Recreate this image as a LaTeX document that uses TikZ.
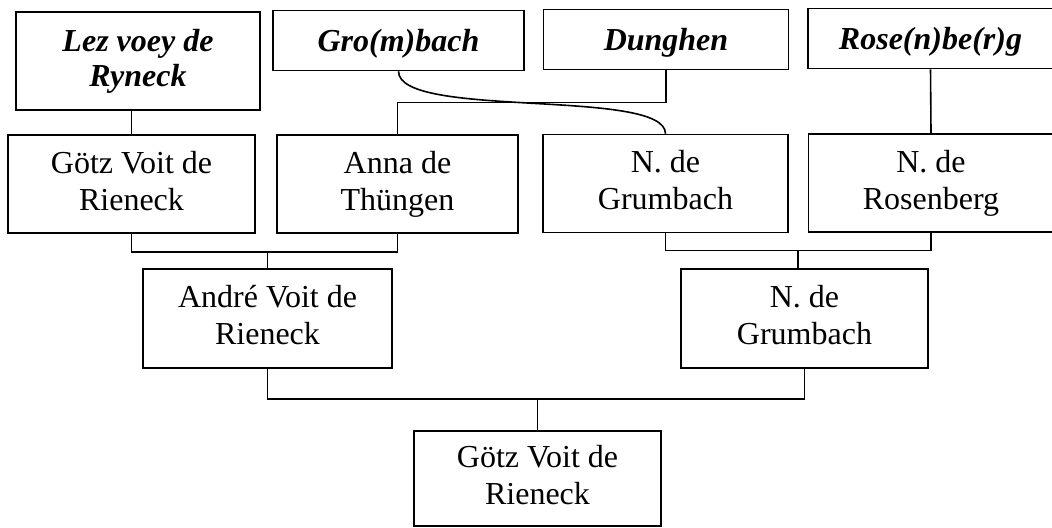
\documentclass[tikz,border=0pt]{standalone}
\usepackage{fontspec}
\setmainfont{Liberation Serif}
\usetikzlibrary{calc}
\tikzset{
  ahn/.style={draw, line width=0.8pt, inner sep=0pt, align=center,
    minimum width=122.5pt, minimum height=49pt,
    execute at begin node={\rule{0pt}{14.2pt}},
    execute at end node={\rule[-3.6pt]{0pt}{3.6pt}},
    font=\fontsize{16}{18.5}\selectfont},
  stamm/.style={ahn, minimum height=30pt,
    font=\fontsize{16}{17.5}\selectfont\bfseries\itshape},
  linie/.style={line width=0.8pt}
}
\begin{document}
\begin{tikzpicture}[x=0.5pt,y=-0.5pt]
		\useasboundingbox ( 0, 0 ) rectangle ( 1052, 527 );

		% Stammhäuser
		\node [stamm, minimum width=122pt, minimum height=49pt] (lez) at ( 138, 61 ) {Lez voey de\\Ryneck};
		\node [stamm, minimum width=125.5pt] (grom) at ( 398.5, 40.5 ) {Gro(m)bach};
		\node [stamm] (dung) at ( 666, 39.5 ) {Dunghen};
		\node [stamm] (rose) at ( 930.5, 38.5 ) {Rose(n)be(r)g};

		% Großeltern
		\node [ahn, minimum width=123.5pt] (goetz) at ( 131.5, 184 ) {Götz Voit de\\Rieneck};
		\node [ahn, minimum width=120.5pt] (anna) at ( 397.5, 184 ) {Anna de\\Thüngen};
		\node [ahn] (grum) at ( 665.5, 183.5 ) {N. de\\Grumbach};
		\node [ahn] (rosen) at ( 931, 183 ) {N. de\\Rosenberg};

		% Eltern
		\node [ahn, minimum width=124.5pt, minimum height=49.5pt] (andre) at ( 267.5, 318.5 ) {André Voit de\\Rieneck};
		\node [ahn, minimum width=123.5pt, minimum height=49.5pt] (grumz) at ( 804.5, 318.5 ) {N. de\\Grumbach};

		% Proband
		\node [ahn, minimum width=123.5pt, minimum height=47.5pt] (proband) at ( 537.5, 478.5 ) {Götz Voit de\\Rieneck};

		% Linien oben
		\draw [linie] (goetz.north) -- (goetz.north |- lez.south);
		\draw [linie] (dung.south) -- ++( 0, 32 ) -| (anna.north);
		\draw [linie] (grom.south) .. controls +( 0, 48 ) and +( 0, -46 ) .. (grum.north);
		\draw [linie] (rose.south) -- (rosen.north);

		% Linien Mitte
		\draw [linie] (goetz.south) -- ++( 0, 18 ) coordinate (jl) -| (anna.south);
		\draw [linie] (andre.north) -- (andre.north |- jl);
		\draw [linie] (grum.south) -- ++( 0, 17 ) -| (rosen.south);
		\coordinate (jr) at ($(grum.south)!0.5!(rosen.south) + (0,17)$);
		\draw [linie] (jr) -- (jr |- grumz.north);

		% Linien unten
		\draw [linie] (andre.south) -- ++( 0, 30 ) coordinate (jb) -| (grumz.south);
		\draw [linie] (proband.north) -- (proband.north |- jb);
	\end{tikzpicture}
\end{document}
